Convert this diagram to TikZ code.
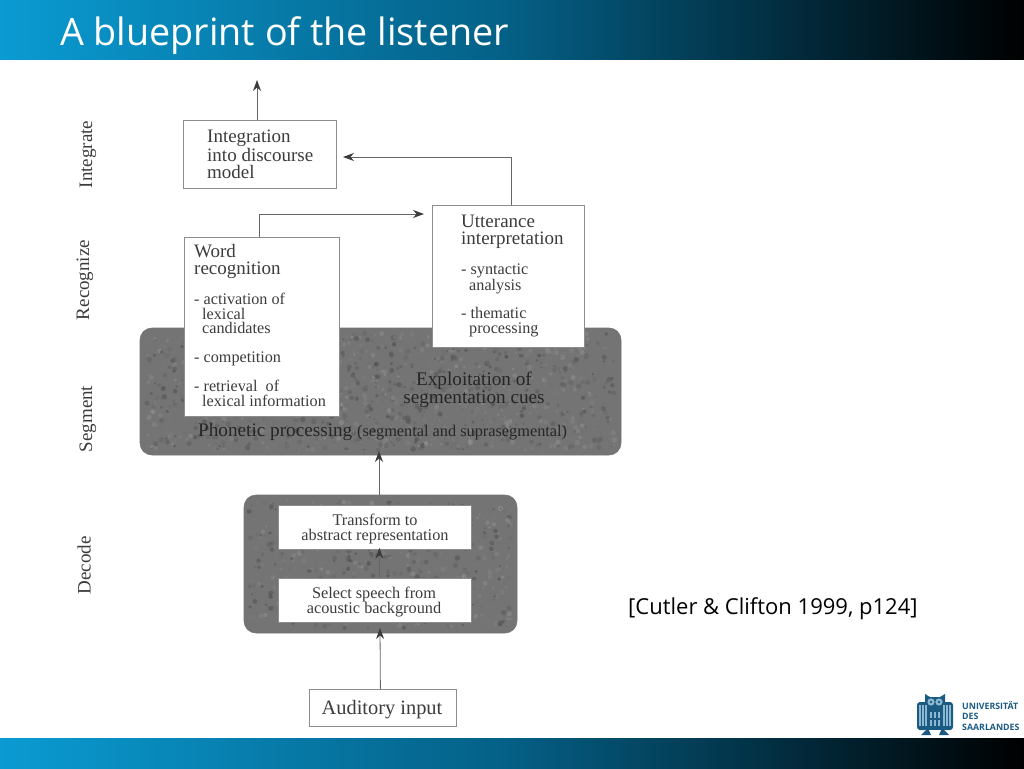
\documentclass[tikz,border=0pt]{standalone}
\usepackage{fontspec}
\setmainfont{Liberation Serif}
\newfontfamily\slidefont{Open Sans}
\newfontfamily\logofont{Open Sans}
\usepackage{tikz}
\usetikzlibrary{calc, shapes, backgrounds, arrows.meta}
\definecolor{barblue}{HTML}{0A9BD2}
\definecolor{bardark}{HTML}{045F85}
\definecolor{logoblue}{HTML}{1B5B82}
\definecolor{logolight}{HTML}{8DB8D2}
\definecolor{inkgray}{HTML}{3C3C3C}
\definecolor{panelgray}{HTML}{747474}
\tikzset{
  x=1pt, y=-1pt,
  box/.style={draw=black!45, fill=white, line width=0.8pt, anchor=north west, inner sep=0pt},
  panel/.style={draw=black!55, fill=panelgray, rounded corners=12pt, line width=0.6pt},
  link/.style={draw=black!60, line width=0.8pt, -{Stealth[length=11pt,width=8pt,inkgray]}},
  head/.style={anchor=north west, align=left, inner sep=0pt, text=inkgray, font=\fontsize{19}{17}\selectfont},
  item/.style={anchor=north west, align=left, inner sep=0pt, text=inkgray, font=\fontsize{16.2}{14.6}\selectfont},
  stage/.style={rotate=90, text=inkgray, inner sep=0pt, font=\fontsize{19}{20}\selectfont},
  centred/.style={align=center, inner sep=0pt, text=inkgray, font=\fontsize{16.3}{15}\selectfont},
  paneltext/.style={inner sep=0pt, text=black!85, font=\fontsize{19.2}{18}\selectfont},
}
\begin{document}
\begin{tikzpicture}
  \useasboundingbox (0,0) rectangle (1024,768);
  % top and bottom bars
  \shade[left color=barblue, right color=black, middle color=bardark] (0,0) rectangle (1024,59);
  \shade[left color=barblue, right color=black, middle color=bardark] (0,738) rectangle (1024,768);
  \node[anchor=base west, inner sep=0pt, text=white, font=\slidefont\fontsize{37.7}{38}\selectfont] (title) at (60,45.5) {A blueprint of the listener};

  % panels
  \draw[panel] (140,328) rectangle (621,455);
  \draw[panel] (244,495) rectangle (517,633);
  \coordinate (segnorth) at (379,455);
  \coordinate (decnorth) at (379,495);
  \coordinate (decsouth) at (380,633);
  \pgfmathsetseed{7}
  \foreach \i in {1,...,1300}{
    \pgfmathsetmacro{\px}{146+rnd*469}
    \pgfmathsetmacro{\py}{333+rnd*117}
    \pgfmathsetmacro{\tone}{int(40+rnd*35)}
    \pgfmathsetmacro{\spot}{1+rnd*1.8}
    \fill[black!\tone, opacity=0.45] (\px,\py) circle (\spot pt);
  }
  \foreach \i in {1,...,650}{
    \pgfmathsetmacro{\px}{249+rnd*263}
    \pgfmathsetmacro{\py}{500+rnd*128}
    \pgfmathsetmacro{\tone}{int(40+rnd*35)}
    \pgfmathsetmacro{\spot}{1+rnd*1.8}
    \fill[black!\tone, opacity=0.45] (\px,\py) circle (\spot pt);
  }

  % boxes
  \node[box, minimum width=153pt, minimum height=68pt] (integration) at (183,120) {};
  \node[box, minimum width=152pt, minimum height=142pt] (utterance) at (432,205) {};
  \node[box, minimum width=155pt, minimum height=179pt] (word) at (184,237) {};
  \node[box, minimum width=193pt, minimum height=44pt] (transform) at (278,505) {};
  \node[box, minimum width=193pt, minimum height=44pt] (select) at (278,578) {};
  \node[box, minimum width=147pt, minimum height=37pt] (auditory) at (309,689) {};

  % box texts
  \node[head] (integrationtext) at (207,130) {Integration\\into discourse\\model};
  \node[head] (uttertext) at (461,215) {Utterance\\interpretation};
  \node[item] (uttersyn) at (461,264) {- syntactic\\\hspace*{8pt}analysis};
  \node[item] (utterthem) at (461,307) {- thematic\\\hspace*{8pt}processing};
  \node[head] (wordtext) at (194,244) {Word\\recognition};
  \node[item] (wordact) at (194,293) {- activation of\\\hspace*{8pt}lexical\\\hspace*{8pt}candidates};
  \node[item] (wordcomp) at (194,352) {- competition};
  \node[item] (wordret) at (194,380) {- retrieval\ \ of\\\hspace*{8pt}lexical information};
  \node[centred] (transformtext) at (375,528.5) {Transform to\\abstract representation};
  \node[centred] (selecttext) at (374,602) {Select speech from\\acoustic background};
  \node[text=inkgray, inner sep=0pt, font=\fontsize{20.4}{20}\selectfont] (auditorytext) at (382,710) {Auditory input};

  % panel texts
  \node[paneltext, align=center] (exploit) at (474,390) {Exploitation of\\segmentation cues};
  \node[paneltext, anchor=west] (phonetic) at (198,432) {Phonetic processing {\fontsize{16.3}{17}\selectfont (segmental and suprasegmental)}};

  % stages
  \node[stage] (integrate) at (88,154.5) {Integrate};
  \node[stage] (recognize) at (85,280) {Recognize};
  \node[stage] (segment) at (88,419) {Segment};
  \node[stage] (decode) at (84,565.5) {Decode};

  % connectors
  \coordinate (outtip) at (257,80);
  \coordinate (wordtip) at (424,214);
  \coordinate (inttip) at (343,157);
  \draw[link] (outtip |- integration.north) -- (outtip);
  \draw[link] ([xshift=-2.5pt]word.north) |- (wordtip);
  \draw[link] ([xshift=3pt]utterance.north) |- (inttip);
  \draw[link] (decnorth) -- ([yshift=4pt]segnorth);
  \draw[link] ([xshift=4.5pt]select.north) -- ([xshift=4.5pt,yshift=2pt]transform.south);
  \draw[link] ([xshift=-2.5pt]auditory.north) -- ([yshift=5pt]decsouth);

  \node[anchor=base west, inner sep=0pt, font=\slidefont\fontsize{22}{22}\selectfont] (citation) at (628,614) {[Cutler \& Clifton 1999, p124]};

  % logo
  \fill[logoblue, rounded corners=3pt] (917,702) rectangle (928,730);
  \fill[logoblue, rounded corners=3pt] (942,702) rectangle (953,730);
  \fill[logoblue] (926,704) rectangle (944,730);
  \fill[logoblue] (925,694) -- (930,697) -- (940,697) -- (945,694) -- (945,710) -- (925,710) -- cycle;
  \foreach \lx in {919,922,925,943,946,949}{
    \fill[logolight] (\lx,705) rectangle ++(1.6,21);
  }
  \foreach \lx in {930,934,938}{
    \fill[logolight] (\lx,712) rectangle ++(2,6);
    \fill[logolight] (\lx,720) rectangle ++(2,6);
  }
  \fill[logolight] (931,702) circle (3.6pt) (939,702) circle (3.6pt);
  \fill[logoblue] (931,702) circle (1.4pt) (939,702) circle (1.4pt);
  \fill[logoblue] (921,735) -- (928,728) -- (931,735) -- cycle;
  \fill[logoblue] (949,735) -- (942,728) -- (939,735) -- cycle;
  \node[anchor=north west, inner sep=0pt, align=left, text=logoblue, font=\logofont\bfseries\fontsize{8.8}{10.7}\selectfont] (logotext) at (962,701) {UNIVERSITÄT\\DES\\SAARLANDES};
\end{tikzpicture}
\end{document}
